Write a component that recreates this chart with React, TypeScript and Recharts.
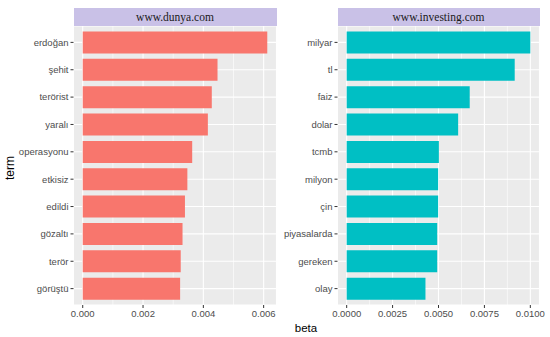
import { Bar, BarChart, CartesianGrid, XAxis, YAxis } from "recharts";

const dunyaTerms = ["erdoğan", "şehit", "terörist", "yaralı", "operasyonu", "etkisiz", "edildi", "gözaltı", "terör", "görüştü"];
const dunyaBeta = [0.00612, 0.00447, 0.00428, 0.00415, 0.00363, 0.00347, 0.00339, 0.00331, 0.00325, 0.00323];
const dunyaTicks = [0, 0.002, 0.004, 0.006];
const dunyaMinor = [0.001, 0.003, 0.005];

const investingTerms = ["milyar", "tl", "faiz", "dolar", "tcmb", "milyon", "çin", "piyasalarda", "gereken", "olay"];
const investingBeta = [0.01, 0.00915, 0.0067, 0.00607, 0.00502, 0.00498, 0.00498, 0.00493, 0.00493, 0.00429];
const investingTicks = [0, 0.0025, 0.005, 0.0075, 0.01];
const investingMinor = [0.00125, 0.00375, 0.00625, 0.00875];

const tickStyle = { fill: "#4D4D4D", fontSize: 9.5, fontFamily: "Liberation Sans, Arial, sans-serif" };

type PanelProps = {
  title: string;
  terms: string[];
  beta: number[];
  ticks: number[];
  minor: number[];
  digits: number;
  color: string;
  left: number;
  axisWidth: number;
  width: number;
};

const EXTRA = 14;

function Panel({ title, terms, beta, ticks, minor, digits, color, left, axisWidth, width }: PanelProps) {
  const data = terms.map((t, i) => ({ term: t, beta: beta[i] }));
  const max = Math.max(...beta);
  const pad = max * 0.05;
  const d0 = -pad;
  const d1 = max + pad;
  const minorGen = ({ offset }: any) =>
    minor.map((m) => offset.left + ((m - d0) / (d1 - d0)) * offset.width);
  return (
    <div style={{ position: "absolute", left, top: 8 }}>
      <div
        style={{
          position: "absolute",
          left: axisWidth,
          top: 0,
          width: width - axisWidth,
          height: 18,
          background: "#C9C1E7",
          color: "#1A1A1A",
          fontFamily: "Liberation Serif, Times New Roman, serif",
          fontSize: 11.5,
          lineHeight: "18px",
          textAlign: "center",
        }}
      >
        {title}
      </div>
      <div style={{ position: "absolute", left: 0, top: 18 }}>
        <BarChart
          width={width + EXTRA}
          height={299}
          data={data}
          layout="vertical"
          margin={{ top: 0, right: EXTRA, bottom: 0, left: 0 }}
          barCategoryGap="10%"
        >
          <CartesianGrid fill="#EBEBEB" stroke="#FFFFFF" strokeWidth={1.1} />
          <CartesianGrid
            horizontal={false}
            stroke="#FFFFFF"
            strokeWidth={0.6}
            verticalCoordinatesGenerator={minorGen}
          />
          <XAxis
            type="number"
            domain={[d0, d1]}
            ticks={ticks}
            allowDataOverflow
            tickFormatter={(v: number) => v.toFixed(digits)}
            tick={tickStyle}
            tickSize={3}
            tickMargin={2}
            tickLine={{ stroke: "#333333" }}
            axisLine={false}
            height={20}
            interval={0}
          />
          <YAxis
            type="category"
            dataKey="term"
            width={axisWidth}
            tick={tickStyle}
            tickSize={3}
            tickMargin={2}
            tickLine={{ stroke: "#333333" }}
            axisLine={false}
            padding={{ top: 2.7, bottom: 2.7 }}
            interval={0}
          />
          <Bar dataKey="beta" fill={color} isAnimationActive={false} />
        </BarChart>
      </div>
    </div>
  );
}

export default function App() {
  return (
    <div style={{ position: "absolute", left: 0, top: 0, width: 550, height: 337, background: "#FFFFFF", overflow: "hidden" }}>
      <Panel
        title="www.dunya.com"
        terms={dunyaTerms}
        beta={dunyaBeta}
        ticks={dunyaTicks}
        minor={dunyaMinor}
        digits={3}
        color="#F8766D"
        left={0}
        axisWidth={73.5}
        width={276.5}
      />
      <Panel
        title="www.investing.com"
        terms={investingTerms}
        beta={investingBeta}
        ticks={investingTicks}
        minor={investingMinor}
        digits={4}
        color="#00BFC4"
        left={280}
        axisWidth={57.5}
        width={259.5}
      />
      <div
        style={{
          position: "absolute",
          left: 10,
          top: 168,
          transform: "translate(-50%, -50%) rotate(-90deg)",
          fontFamily: "Liberation Sans, Arial, sans-serif",
          fontSize: 12,
          color: "#000000",
        }}
      >
        term
      </div>
      <div
        style={{
          position: "absolute",
          left: 306,
          top: 328,
          transform: "translate(-50%, -50%)",
          fontFamily: "Liberation Sans, Arial, sans-serif",
          fontSize: 11.5,
          color: "#000000",
        }}
      >
        beta
      </div>
    </div>
  );
}
